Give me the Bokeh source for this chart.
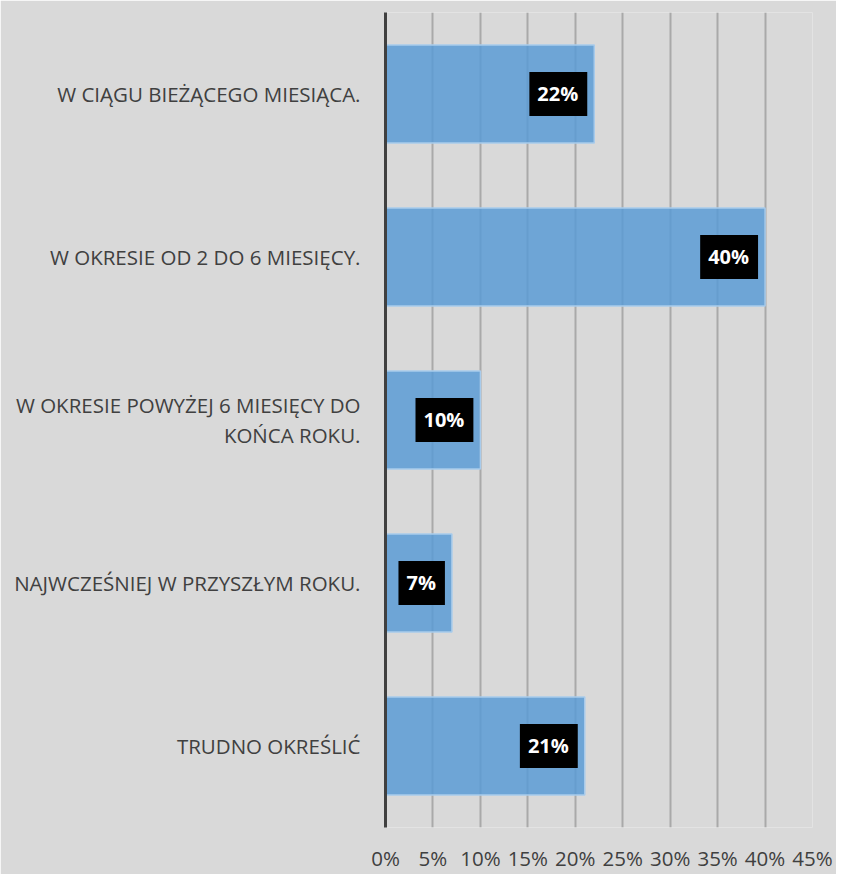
from bokeh.plotting import figure
from bokeh.models import ColumnDataSource, FactorRange, Range1d, FixedTicker
from bokeh.core.properties import value
from bokeh.embed import file_html
from bokeh.resources import INLINE

categories = [
    "W CIĄGU BIEŻĄCEGO MIESIĄCA.",
    "W OKRESIE OD 2 DO 6 MIESIĘCY.",
    "W OKRESIE POWYŻEJ 6 MIESIĘCY DO\nKOŃCA ROKU.",
    "NAJWCZEŚNIEJ W PRZYSZŁYM ROKU.",
    "TRUDNO OKREŚLIĆ",
]
values = [22, 40, 10, 7, 21]
labels = ["22%", "40%", "10%", "7%", "21%"]
x_ticks = [0, 5, 10, 15, 20, 25, 30, 35, 40, 45]
x_tick_labels = ["0%", "5%", "10%", "15%", "20%", "25%", "30%", "35%", "40%", "45%"]

BG = "#d9d9d9"
TXT = "#404040"
FONT = "Open Sans"

src = ColumnDataSource(dict(cat=categories, val=values, lab=labels))

p = figure(
    width=836, height=874,
    y_range=FactorRange(factors=list(reversed(categories))),
    x_range=Range1d(0, 45),
    output_backend="svg", toolbar_location=None,
    min_border_left=385, min_border_right=24, min_border_top=12, min_border_bottom=43,
    background_fill_color=BG, border_fill_color=BG,
)
p.outline_line_color = None

p.hbar(y="cat", right="val", left=0, height=0.6, source=src,
       fill_color="#5b9bd5", fill_alpha=0.85,
       line_color="#a8cbeb", line_width=1.5)

p.text(x="val", y="cat", text="lab", source=src,
       text_align="right", text_baseline="middle",
       x_offset=-7,
       text_color="white", text_font=value(FONT), text_font_style="bold",
       text_font_size="20px",
       background_fill_color="black", padding=[8, 9, 8, 9])

p.xgrid.ticker = FixedTicker(ticks=x_ticks)
p.xgrid.grid_line_color = "#a9a9a9"
p.xgrid.grid_line_width = 2
p.ygrid.grid_line_color = None

p.xaxis.ticker = FixedTicker(ticks=x_ticks)
p.xaxis.major_label_overrides = {t: l for t, l in zip(x_ticks, x_tick_labels)}
p.xaxis.axis_line_color = None
p.xaxis.major_tick_line_color = None
p.xaxis.minor_tick_line_color = None
p.xaxis.major_tick_out = 0
p.xaxis.major_tick_in = 0
p.xaxis.minor_tick_out = 0
p.xaxis.minor_tick_in = 0
p.xaxis.major_label_standoff = 16
p.xaxis.major_label_text_font = FONT
p.xaxis.major_label_text_font_size = "20.5px"
p.xaxis.major_label_text_color = TXT

p.yaxis.axis_line_color = "#404040"
p.yaxis.axis_line_width = 3
p.yaxis.major_tick_line_color = None
p.yaxis.minor_tick_line_color = None
p.yaxis.major_tick_out = 0
p.yaxis.major_tick_in = 0
p.yaxis.major_label_standoff = 25
p.yaxis.major_label_text_font = FONT
p.yaxis.major_label_text_font_size = "20.5px"
p.yaxis.major_label_text_color = TXT
p.yaxis.major_label_text_line_height = 1.1

open("out.html", "w").write(file_html(p, INLINE))
